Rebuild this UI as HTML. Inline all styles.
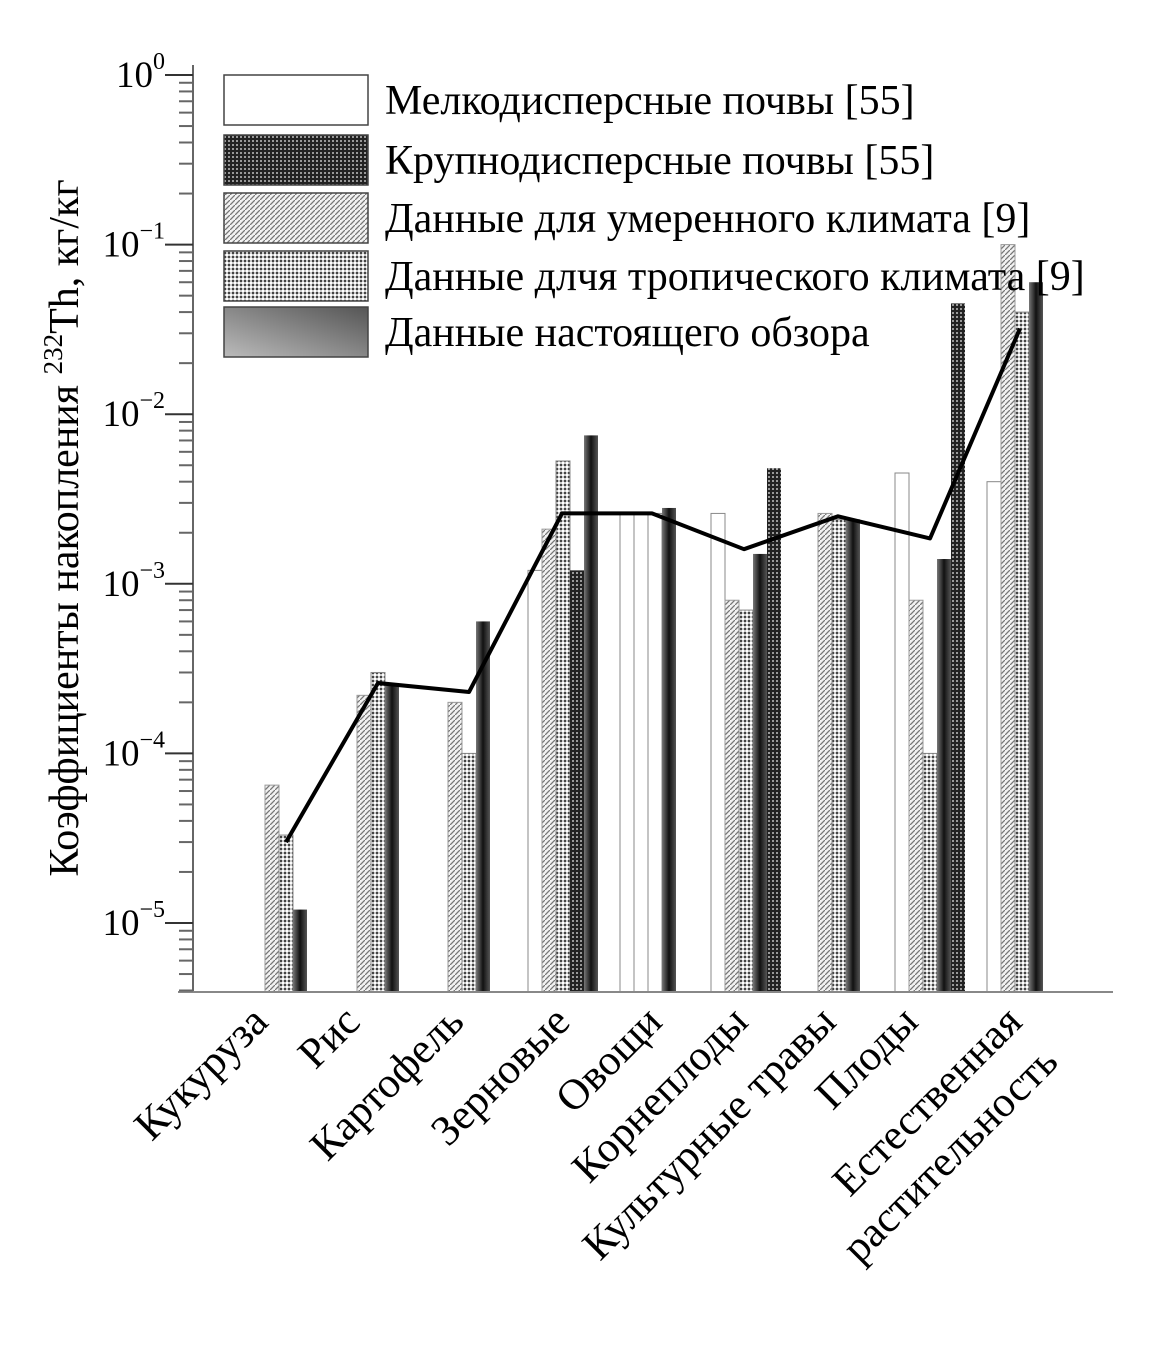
<!DOCTYPE html>
<html><head><meta charset="utf-8"><style>
body{margin:0;background:#fff;}
svg{display:block;font-family:"Liberation Serif",serif;}
</style></head><body>
<svg id="chart" width="1157" height="1355" viewBox="0 0 1157 1355">
<defs>
<pattern id="pCoarse" width="4" height="4" patternUnits="userSpaceOnUse"><rect width="4" height="4" fill="#222"/><rect width="2" height="2" fill="#999"/></pattern>
<pattern id="pTemp" width="5" height="5" patternUnits="userSpaceOnUse"><rect width="5" height="5" fill="#f2f2f2"/><path d="M0 5L5 0" stroke="#777" stroke-width="1.3"/></pattern>
<pattern id="pTrop" width="4" height="4" patternUnits="userSpaceOnUse"><rect width="4" height="4" fill="#ccc"/><rect width="2" height="2" fill="#444"/><rect x="2" y="2" width="2" height="2" fill="#fff"/></pattern>
<linearGradient id="gRev" x1="0" y1="1" x2="1" y2="0"><stop offset="0" stop-color="#bbb"/><stop offset="1" stop-color="#555"/></linearGradient>
<linearGradient id="gBar" x1="0" y1="0" x2="1" y2="0"><stop offset="0" stop-color="#777"/><stop offset="0.5" stop-color="#111"/><stop offset="1" stop-color="#555"/></linearGradient>
</defs>
<g id="plot"></g>
</svg>
<script>
const categories=["Кукуруза","Рис","Картофель","Зерновые","Овощи","Корнеплоды","Культурные травы","Плоды","Естественная растительность"];
const groupStart=[265,357,448,528,620,711,818,895,987];
const barSeries=[
["temp","trop","rev"],
["temp","trop","rev"],
["temp","trop","rev"],
["fine","temp","trop","coarse","rev"],
["fine","fine","fine","rev"],
["fine","temp","trop","rev","coarse"],
["temp","trop","rev"],
["fine","temp","trop","rev","coarse"],
["fine","temp","trop","rev"]];
const barValues=[
[6.5e-5,3.3e-5,1.2e-5],
[2.2e-4,3.0e-4,2.6e-4],
[2.0e-4,1.0e-4,6.0e-4],
[1.2e-3,2.1e-3,5.3e-3,1.2e-3,7.5e-3],
[2.6e-3,2.6e-3,2.6e-3,2.8e-3],
[2.6e-3,8.0e-4,7.0e-4,1.5e-3,4.8e-3],
[2.6e-3,2.4e-3,2.4e-3],
[4.5e-3,8.0e-4,1.0e-4,1.4e-3,4.5e-2],
[4.0e-3,1.0e-1,4.0e-2,6.0e-2]];
const lineValues=[3e-5,2.6e-4,2.3e-4,2.6e-3,2.6e-3,1.6e-3,2.5e-3,1.85e-3,3.2e-2];
const lineX=[286,378,469,562,652,744,838,930,1020];
const legendLabels=["Мелкодисперсные почвы [55]","Крупнодисперсные почвы [55]","Данные для умеренного климата [9]","Данные длчя тропического климата [9]","Данные настоящего обзора"];
const tickExps=[0,-1,-2,-3,-4,-5];

const NS="http://www.w3.org/2000/svg";
const g=document.getElementById('plot');
const Y0=75, DEC=169.6, X0=193, BOT=992, XR=1113, BW=14;
function y(v){return Y0-Math.log10(v)*DEC;}
function el(t,a,p){const e=document.createElementNS(NS,t);for(const k in a)e.setAttribute(k,a[k]);(p||g).appendChild(e);return e;}
const fills={fine:"#fff",coarse:"url(#pCoarse)",temp:"url(#pTemp)",trop:"url(#pTrop)",rev:"url(#gBar)"};
const strokes={fine:"#888",coarse:"none",temp:"#999",trop:"#888",rev:"none"};
barValues.forEach((vals,gi)=>{vals.forEach((v,bi)=>{
 const s=barSeries[gi][bi];
 const r=el('rect',{x:groupStart[gi]+bi*BW,y:y(v),width:BW,height:BOT-y(v),fill:fills[s],stroke:strokes[s],'stroke-width':1});
 
 
});});
const ax=el('line',{x1:X0,y1:65,x2:X0,y2:BOT,stroke:'#666','stroke-width':2});

const bx=el('line',{x1:X0-15,y1:BOT,x2:XR,y2:BOT,stroke:'#888','stroke-width':2});

tickExps.forEach(e=>{
 const yy=y(Math.pow(10,e));
 const t=el('line',{x1:X0-28,y1:yy,x2:X0,y2:yy,stroke:'#333','stroke-width':2});
 
 const tx=el('text',{x:X0-28,y:yy+12,'text-anchor':'end','font-size':37});
 
 tx.textContent='10';
 const sp=el('tspan',{dy:-18,'font-size':24},tx);sp.textContent=(e===0?'0':'−'+(-e));
 for(let m=2;m<=9;m++){const v=Math.pow(10,e-1)*m;const ym=y(v);if(ym>BOT)continue;
  const mt=el('line',{x1:X0-14,y1:ym,x2:X0,y2:ym,stroke:'#666','stroke-width':2});
  }
});
const pl=el('polyline',{points:lineValues.map((v,i)=>lineX[i]+','+y(v)).join(' '),fill:'none',stroke:'#000','stroke-width':4,'stroke-linejoin':'round'});

const labAnchor=[[270,1024],[362,1024],[466,1024],[572,1024],[664,1024],[750,1024],[838,1024],[920,1024],[1024,1024]];
function catText(txt,lx,ly){
 const t=el('text',{x:lx,y:ly,'text-anchor':'end','font-size':43,transform:`rotate(-45 ${lx} ${ly})`});
 
 t.textContent=txt;
}
categories.forEach((c,i)=>{
 const [lx,ly]=labAnchor[i];
 if(i===8){catText('Естественная',lx,ly);catText('растительность',lx+36,ly+40);}
 else catText(c,lx,ly);
});
const yt=el('text',{x:78,y:528,'text-anchor':'middle','font-size':42,transform:'rotate(-90 78 528)'});

yt.appendChild(document.createTextNode('Коэффициенты накопления '));
const sup=el('tspan',{dy:-16,'font-size':27},yt);sup.textContent='232';
const rest=el('tspan',{dy:16},yt);rest.textContent='Th, кг/кг';
const legY=[75,135,193,251,307];const legF=["#fff","url(#pCoarse)","url(#pTemp)","url(#pTrop)","url(#gRev)"];
legendLabels.forEach((l,i)=>{
 const r=el('rect',{x:224,y:legY[i],width:144,height:50,fill:legF[i],stroke:'#444','stroke-width':1.5});
 
 const t=el('text',{x:385,y:legY[i]+39,'font-size':42});
 
 t.textContent=l;
});
</script>
</body></html>
